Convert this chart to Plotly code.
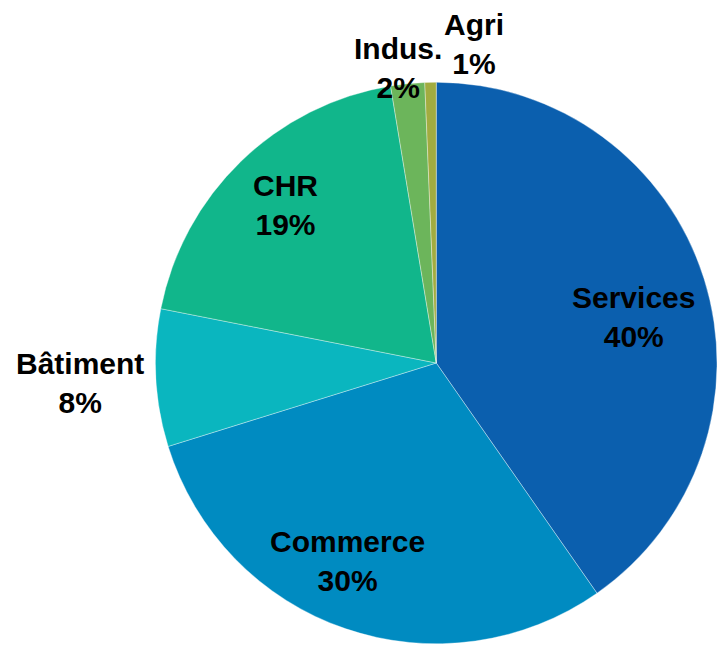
import plotly.graph_objects as go

# Data
categories = ["Services", "Commerce", "Bâtiment", "CHR", "Indus.", "Agri"]
values = [40.3, 29.9, 7.9, 19.3, 1.95, 0.65]
colors = ["#0b5fae", "#008bc1", "#0ab6bf", "#11b68b", "#6cb55b", "#a2ac40"]

# Label positions (style, pixels on the canvas)
W, H = 717, 647
label_px = [(633, 317), (347, 561), (80, 383), (285, 205), (398, 68), (474, 44)]

total = sum(values)
pct_text = [f"{round(v / total * 100):.0f}%" for v in values]

cx, cy, R = 437.5, 363, 282
fig = go.Figure(go.Pie(
    labels=categories,
    values=values,
    sort=False,
    direction="clockwise",
    rotation=0,
    marker=dict(colors=colors, line=dict(color="rgba(255,255,255,0.6)", width=0.6)),
    textinfo="none",
    hoverinfo="skip",
    showlegend=False,
    domain=dict(x=[(cx - R) / W, min(1.0, (cx + R) / W)],
                y=[(H - cy - R) / H, (H - cy + R) / H]),
))

for cat, pct, (px, py) in zip(categories, pct_text, label_px):
    fig.add_annotation(
        x=px / W, y=1 - py / H, xref="paper", yref="paper",
        text=f"<b>{cat}<br>{pct}</b>", showarrow=False,
        xanchor="center", yanchor="middle", align="center",
        font=dict(family="Liberation Sans", size=30, color="#000000"),
    )

fig.update_layout(
    width=W, height=H,
    margin=dict(l=0, r=0, t=0, b=0),
    paper_bgcolor="white", plot_bgcolor="white",
    font=dict(family="Liberation Sans"),
)

fig.write_html("out.html",
               config={"displayModeBar": False},
               post_script="document.body.style.margin='0';document.body.style.overflow='hidden';")
